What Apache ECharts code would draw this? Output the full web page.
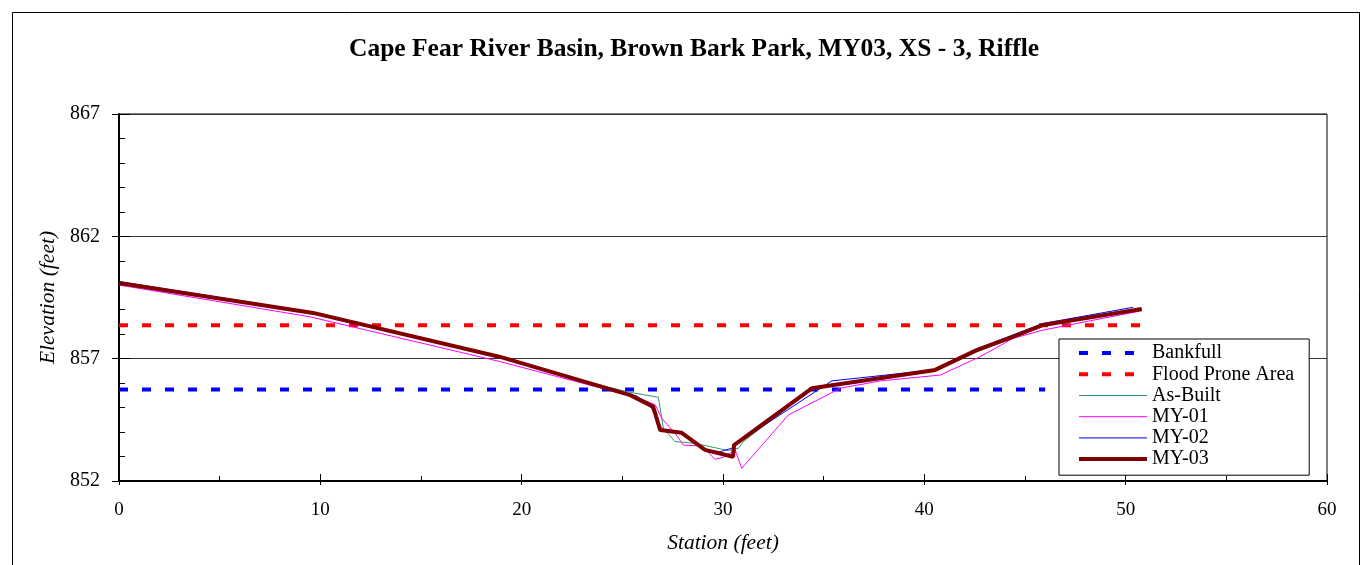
<!DOCTYPE html>
<html><head><meta charset="utf-8">
<script src="https://cdn.jsdelivr.net/npm/echarts@6/dist/echarts.min.js"></script>
<style>html,body{margin:0;padding:0;background:#fff}#c{width:1367px;height:565px}</style>
</head><body><div id="c"></div>
<script>
// ---- data ----
const titleText = 'Cape Fear River Basin, Brown Bark Park, MY03, XS - 3, Riffle';
const seriesNames = ['Bankfull', 'Flood Prone Area', 'As-Built', 'MY-01', 'MY-02', 'MY-03'];

const bankfullStation = [0, 46.0];
const bankfullElev = [855.74, 855.74];

const floodStation = [0, 50.8];
const floodElev = [858.37, 858.37];

const asBuiltStation = [0, 9.64, 18.93, 22.55, 25.22, 26.79, 27.04, 27.62, 28.61, 30.27, 30.77, 31.01, 34.41, 40.5, 42.6, 44.41, 45.9, 50.8];
const asBuiltElev    = [860.08, 858.87, 857.07, 856.2, 855.65, 855.42, 854.15, 853.61, 853.54, 853.24, 853.34, 853.61, 855.76, 856.48, 857.28, 857.84, 858.33, 859.0];

const my01Station = [0, 9.49, 18.93, 25.88, 26.63, 26.96, 27.62, 28.03, 28.94, 29.6, 30.02, 30.6, 30.93, 33.25, 35.82, 37.8, 40.79, 42.77, 44.41, 45.9, 50.8];
const my01Elev    = [860.01, 858.71, 856.88, 855.38, 855.11, 854.56, 853.95, 853.47, 853.43, 852.89, 852.97, 853.27, 852.52, 854.7, 855.79, 856.09, 856.33, 857.08, 857.83, 858.17, 858.96];

const my02Station = [0, 9.64, 18.93, 25.72, 26.46, 26.96, 27.87, 29.01, 29.86, 30.44, 30.55, 35.4, 40.44, 42.6, 44.41, 45.9, 50.37];
const my02Elev    = [860.15, 858.9, 857.1, 855.47, 854.97, 854.13, 854.01, 853.27, 853.2, 853.34, 853.47, 856.09, 856.54, 857.4, 857.97, 858.44, 859.1];

const my03Station = [0, 9.64, 18.93, 25.39, 26.53, 26.88, 27.95, 29.11, 30.5, 30.55, 34.41, 40.54, 42.6, 44.41, 45.9, 50.8];
const my03Elev    = [860.09, 858.87, 857.07, 855.51, 855.04, 854.08, 853.97, 853.27, 852.99, 853.47, 855.79, 856.54, 857.35, 857.9, 858.38, 859.03];

const xMin = 0, xMax = 60, xStep = 10;
const yMin = 852, yMax = 867, yStep = 5;

// ---- build ----
const zip = (a, b) => a.map((v, i) => [v, b[i]]);
const serif = '"Liberation Serif", "Times New Roman", serif';

const styles = {
  'Bankfull':         {color: '#0000FF', width: 4, type: [9, 14]},
  'Flood Prone Area': {color: '#FF0000', width: 4, type: [9, 14]},
  'As-Built':         {color: '#339966', width: 1, type: 'solid'},
  'MY-01':            {color: '#FF00FF', width: 1, type: 'solid'},
  'MY-02':            {color: '#0000FF', width: 1, type: 'solid'},
  'MY-03':            {color: '#800000', width: 4, type: 'solid'}
};
const dataMap = {
  'Bankfull': zip(bankfullStation, bankfullElev),
  'Flood Prone Area': zip(floodStation, floodElev),
  'As-Built': zip(asBuiltStation, asBuiltElev),
  'MY-01': zip(my01Station, my01Elev),
  'MY-02': zip(my02Station, my02Elev),
  'MY-03': zip(my03Station, my03Elev)
};

const series = seriesNames.map(n => ({
  name: n, type: 'line', xAxisIndex: 0, yAxisIndex: 0,
  data: dataMap[n], symbol: 'none', animation: false,
  lineStyle: {color: styles[n].color, width: styles[n].width, type: styles[n].type},
  itemStyle: {color: styles[n].color}
}));

const chart = echarts.init(document.getElementById('c'));
chart.setOption({
  animation: false,
  backgroundColor: '#fff',
  title: {
    text: titleText, left: 349, top: 36, padding: 0,
    textStyle: {fontFamily: serif, fontSize: 25.5, fontWeight: 'bold', color: '#000'}
  },
  graphic: [{
    type: 'rect', shape: {x: 12.5, y: 12.5, width: 1347, height: 600},
    style: {fill: 'none', stroke: '#000', lineWidth: 1}, silent: true, z: -1
  }],
  grid: {left: 119, right: 40, top: 114, bottom: 84, show: true, borderColor: '#000', borderWidth: 1, backgroundColor: 'transparent'},
  legend: {
    show: true,
    orient: 'vertical', left: 1059, top: 339,
    padding: [3.5, 15, 5.5, 18], itemGap: 0, itemWidth: 68, itemHeight: 14,
    backgroundColor: '#fff', borderColor: '#000', borderWidth: 1,
    itemStyle: {opacity: 0},
    textStyle: {fontFamily: serif, fontSize: 20, color: '#000', lineHeight: 21.2},
    data: seriesNames.map(n => ({
      name: n,
      lineStyle: {width: styles[n].width}
    }))
  },
  xAxis: [{
    type: 'value', min: xMin, max: xMax, interval: xStep,
    name: 'Station (feet)', nameLocation: 'middle', nameGap: 51,
    nameTextStyle: {fontFamily: serif, fontSize: 21.5, fontStyle: 'italic', color: '#000'},
    axisLine: {show: true, onZero: false, lineStyle: {color: '#000', width: 2}},
    axisTick: {show: true, inside: false, length: 4, lineStyle: {color: '#000'}},
    axisLabel: {margin: 20, fontFamily: serif, fontSize: 19, color: '#000'},
    splitLine: {show: false}
  }, {
    type: 'value', min: xMin, max: xMax, interval: xStep, position: 'bottom',
    axisLine: {show: false}, axisLabel: {show: false},
    axisTick: {show: true, inside: true, length: 7, lineStyle: {color: '#000'}},
    minorTick: {show: true, splitNumber: 2, length: 5, lineStyle: {color: '#000'}},
    splitLine: {show: false}
  }],
  yAxis: [{
    type: 'value', min: yMin, max: yMax, interval: yStep,
    name: 'Elevation (feet)', nameLocation: 'middle', nameGap: 60,
    nameTextStyle: {fontFamily: serif, fontSize: 21.5, fontStyle: 'italic', color: '#000'},
    axisLine: {show: true, lineStyle: {color: '#000', width: 2}},
    axisTick: {show: true, inside: false, length: 7, lineStyle: {color: '#000'}},
    axisLabel: {margin: 19, fontFamily: serif, fontSize: 20, color: '#000'},
    splitLine: {show: true, lineStyle: {color: '#333', width: 1}}
  }, {
    type: 'value', min: yMin, max: yMax, interval: yStep, position: 'left', offset: 0,
    axisLine: {show: false}, axisLabel: {show: false},
    axisTick: {show: true, inside: true, length: 11, lineStyle: {color: '#000'}},
    minorTick: {show: true, splitNumber: 5, length: 6, lineStyle: {color: '#000'}},
    splitLine: {show: false}
  }],
  series: series
});
</script>
</body></html>
